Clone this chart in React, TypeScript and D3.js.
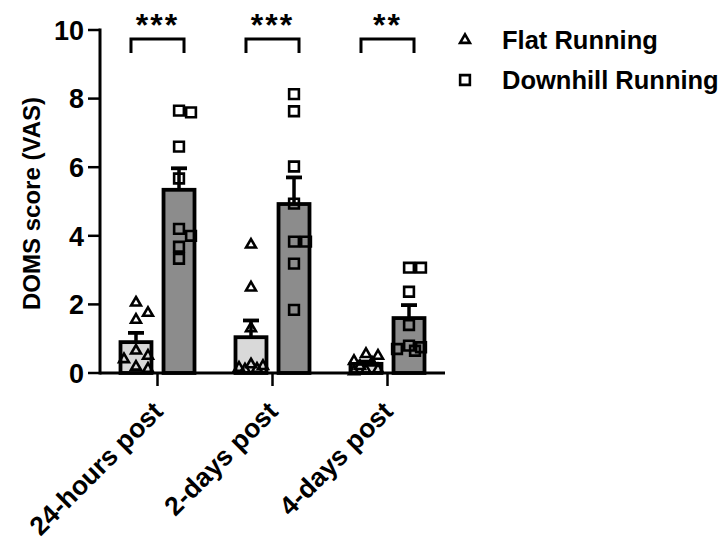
import React from 'react';
import * as d3 from 'd3';

// time points and groups
const timepoints = ['24-hours post', '2-days post', '4-days post'];
const groups = ['Flat Running', 'Downhill Running'];

// individual DOMS scores (VAS)
const flatScores = [
  [2.05, 1.75, 1.55, 0.65, 0.5, 0.4, 0.12, 0.18],
  [3.74, 2.49, 1.3, 0.25, 0.15, 0.1, 0.12, 0.2],
  [0.55, 0.5, 0.35, 0.3, 0.2, 0.1, 0.08, 0.05],
];
const downhillScores = [
  [7.6, 7.65, 6.6, 5.67, 4.0, 4.2, 3.68, 3.33],
  [8.13, 7.63, 6.02, 4.94, 3.83, 3.83, 3.19, 1.84],
  [3.07, 3.07, 2.37, 1.4, 0.8, 0.75, 0.7, 0.65],
];
const significance = ['***', '***', '**'];
const yTicks = [0, 2, 4, 6, 8, 10];

const fills = ['#d9d9d9', '#8c8c8c'];
const FONT = '"Liberation Sans", Arial, sans-serif';

const W = 723;
const H = 541;
const plot = { left: 100, right: 445, top: 30, bottom: 373 };

// beeswarm kept inside the bar width; crowded points just overlap
function swarm(vals: number[], y: d3.ScaleLinear<number, number>, d: number, maxOff: number) {
  const order = vals.map((v, i) => i).sort((a, b) => vals[b] - vals[a]);
  const placed: { x: number; y: number; i: number }[] = [];
  const cands: number[] = [0];
  for (let s = d / 2; s <= maxOff; s += d / 2) cands.push(s, -s);
  order.forEach(i => {
    const py = y(vals[i]);
    let best = 0;
    let bestDist = -1;
    for (const px of cands) {
      const dist = placed.length ? Math.min(...placed.map(p => Math.hypot(p.x - px, p.y - py))) : Infinity;
      if (dist >= d) { best = px; bestDist = Infinity; break; }
      if (dist > bestDist) { bestDist = dist; best = px; }
    }
    placed.push({ x: best, y: py, i });
  });
  return placed;
}

const stats = (vals: number[]) => {
  const m = d3.mean(vals) as number;
  const sd = d3.deviation(vals) as number;
  return { mean: m, sem: sd / Math.sqrt(vals.length) };
};

export default function App() {
  const y = d3.scaleLinear().domain([0, 10]).range([plot.bottom, plot.top]);
  const x0 = d3.scaleBand().domain(timepoints).range([plot.left, plot.right]);
  const x1 = d3.scaleBand().domain(groups).range([-37, 37]).paddingInner(0.28);
  const bw = x1.bandwidth();

  const triangle = d3.symbol(d3.symbolTriangle, 42)()!;
  const square = d3.symbol(d3.symbolSquare, 95)()!;
  const shapes = [triangle, square];
  const data = [flatScores, downhillScores];

  return (
    <svg width={W} height={H} style={{ position: 'absolute', left: 0, top: 0, background: '#fff' }}
      fontFamily={FONT} fontWeight="bold">
      {/* bars, error bars and points */}
      {timepoints.map((tp, ti) => (
        <g key={tp} transform={`translate(${x0(tp)! + x0.bandwidth() / 2},0)`}>
          {groups.map((g, gi) => {
            const vals = data[gi][ti];
            const { mean, sem } = stats(vals);
            const cx = x1(g)! + bw / 2;
            const pts = swarm(vals, y, 12, 13);
            return (
              <g key={g}>
                <rect x={x1(g)!} y={y(mean)} width={bw} height={y(0) - y(mean)}
                  fill={fills[gi]} stroke="#000" strokeWidth={3.8} />
                <line x1={cx} x2={cx} y1={y(mean)} y2={y(mean + sem)} stroke="#000" strokeWidth={3.5} />
                <line x1={cx - 8} x2={cx + 8} y1={y(mean + sem)} y2={y(mean + sem)} stroke="#000" strokeWidth={3.8} />
                {pts.map(p => (
                  <path key={p.i} d={shapes[gi]} transform={`translate(${cx + p.x},${p.y})`}
                    fill="none" stroke="#000" strokeWidth={2.6} />
                ))}
              </g>
            );
          })}
          {/* significance bracket */}
          <path d={`M${x1(groups[0])! + bw / 2 - 5},53V39H${x1(groups[1])! + bw / 2 + 5}V53`}
            fill="none" stroke="#000" strokeWidth={3} />
          <text x={0} y={36} textAnchor="middle" fontSize={32} letterSpacing={2}>{significance[ti]}</text>
        </g>
      ))}

      {/* y axis */}
      <line x1={plot.left} x2={plot.left} y1={plot.top - 1.5} y2={plot.bottom + 1.5} stroke="#000" strokeWidth={3} />
      {yTicks.map(t => (
        <g key={t} transform={`translate(${plot.left},${y(t)})`}>
          <line x1={-12} x2={0} stroke="#000" strokeWidth={2.5} />
          <text x={-16} dy="0.36em" textAnchor="end" fontSize={27}>{t}</text>
        </g>
      ))}
      <text transform={`translate(40,${(plot.top + plot.bottom) / 2 + 2}) rotate(-90)`} textAnchor="middle"
        fontSize={24}>DOMS score (VAS)</text>

      {/* x axis */}
      <line x1={plot.left} x2={plot.right} y1={plot.bottom} y2={plot.bottom} stroke="#000" strokeWidth={3} />
      {timepoints.map(tp => {
        const cx = x0(tp)! + x0.bandwidth() / 2;
        return (
          <g key={tp} transform={`translate(${cx},${plot.bottom})`}>
            <line y1={0} y2={13} stroke="#000" strokeWidth={2.5} />
            <text transform="translate(7,40) rotate(-45)" textAnchor="end" fontSize={26.5}>{tp}</text>
          </g>
        );
      })}

      {/* legend */}
      {groups.map((g, gi) => (
        <g key={g} transform={`translate(465,${40 + gi * 40})`}>
          <path d={shapes[gi]} fill="none" stroke="#000" strokeWidth={2.6} />
          <text x={37} dy="0.36em" fontSize={25.5}>{g}</text>
        </g>
      ))}
    </svg>
  );
}
